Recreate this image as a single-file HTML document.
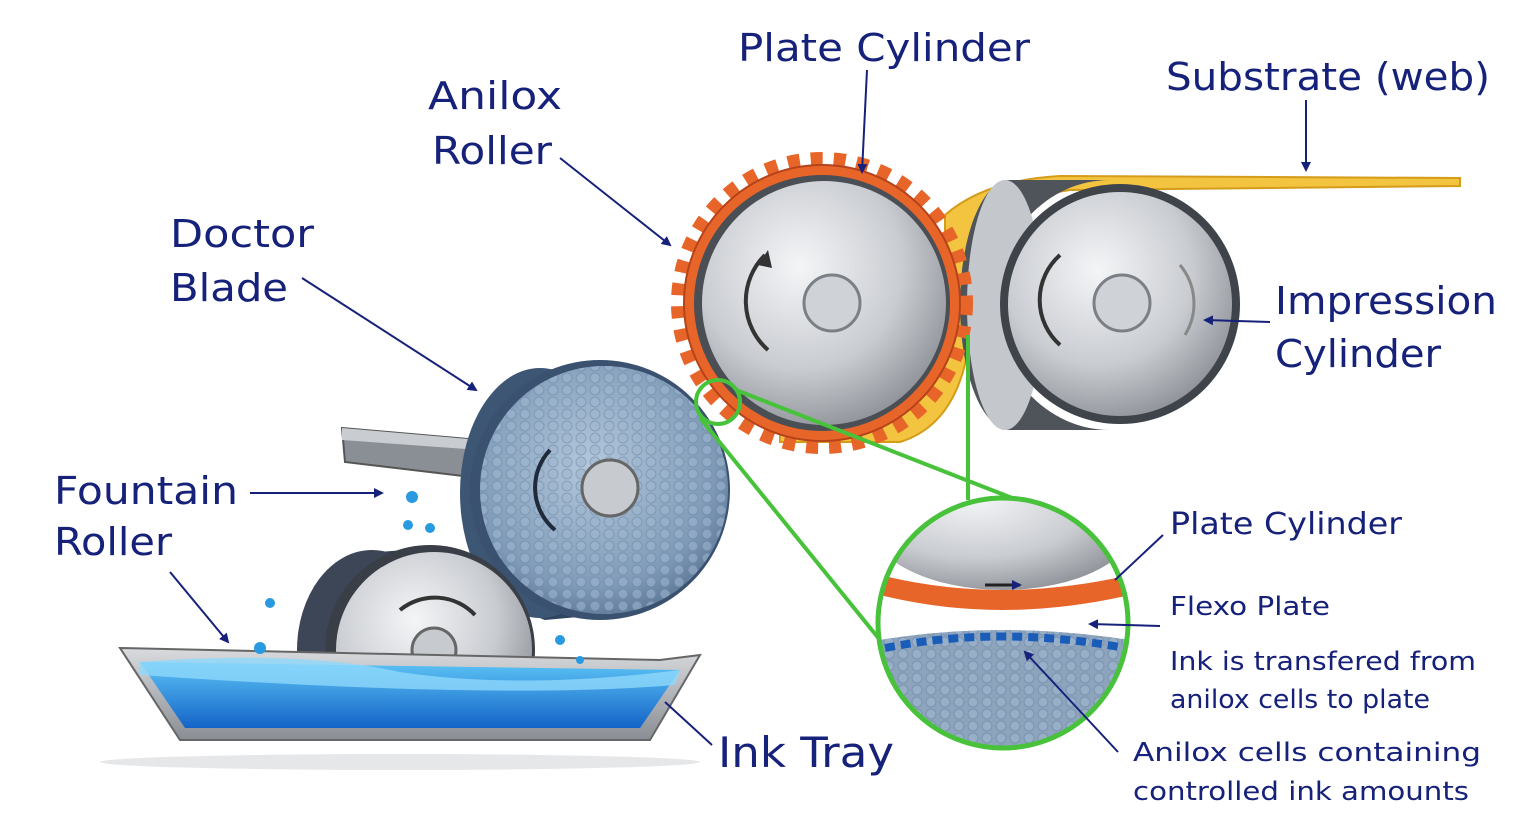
<!DOCTYPE html>
<html><head><meta charset="utf-8"><style>
html,body{margin:0;padding:0;background:#fff;}
svg{display:block}
text{font-family:"DejaVu Sans","Liberation Sans",sans-serif;fill:#16217a}
</style></head><body>
<svg width="1536" height="828" viewBox="0 0 1536 828" xmlns="http://www.w3.org/2000/svg">
<defs>
<radialGradient id="gray" cx="40%" cy="35%" r="70%">
<stop offset="0" stop-color="#f4f5f7"/><stop offset="0.6" stop-color="#c9ccd1"/><stop offset="1" stop-color="#8d9197"/></radialGradient>
<radialGradient id="blue" cx="45%" cy="40%" r="70%">
<stop offset="0" stop-color="#b4c8dc"/><stop offset="0.7" stop-color="#7f9bb8"/><stop offset="1" stop-color="#4d6787"/></radialGradient>
<linearGradient id="ink" x1="0" y1="0" x2="0" y2="1">
<stop offset="0" stop-color="#5cc3f5"/><stop offset="1" stop-color="#1464c8"/></linearGradient>
<linearGradient id="tray" x1="0" y1="0" x2="0" y2="1">
<stop offset="0" stop-color="#d9dbde"/><stop offset="1" stop-color="#8a8e94"/></linearGradient>
<pattern id="hex" width="14" height="12" patternUnits="userSpaceOnUse">
<circle cx="7" cy="6" r="5" fill="#9fb6cf" stroke="#6d87a5" stroke-width="1"/></pattern>
<marker id="ah" markerWidth="10" markerHeight="10" refX="8" refY="5" orient="auto" markerUnits="userSpaceOnUse">
<path d="M0,0 L10,5 L0,10 z" fill="#16217a"/></marker>
<clipPath id="zc"><circle cx="1003" cy="623" r="123"/></clipPath>
<clipPath id="fc"><rect x="0" y="0" width="1536" height="690"/></clipPath>
</defs>

<!-- substrate -->
<path d="M945,215 Q985,180 1060,176 L1460,178 L1460,186 L1070,190 Q1000,200 980,250 L968,350 Q955,425 900,442 L780,442 L780,425 Q900,420 935,360 L945,250 Z" fill="#f2c440" stroke="#d59c1a" stroke-width="2"/>

<!-- impression cylinder -->
<path d="M1110,180 A115,125 0 0 0 1110,430 L1010,430 A50,125 0 0 1 1010,180 Z" fill="#4f545b"/>
<ellipse cx="1005" cy="305" rx="38" ry="125" fill="#c4c7cc"/>
<circle cx="1120" cy="304" r="120" fill="#3f434a"/>
<circle cx="1120" cy="304" r="112" fill="url(#gray)"/>
<circle cx="1122" cy="303" r="28" fill="#cfd2d6" stroke="#7b8087" stroke-width="3"/>
<path d="M1060,345 A60,60 0 0 1 1060,255" fill="none" stroke="#333" stroke-width="4"/>
<path d="M1180,265 A60,60 0 0 1 1185,335" fill="none" stroke="#888" stroke-width="3"/>

<!-- plate cylinder -->
<circle cx="822" cy="303" r="144" fill="none" stroke="#e8652a" stroke-width="14" stroke-dasharray="12 11"/>
<circle cx="822" cy="303" r="138" fill="#e8652a" stroke="#b5431a" stroke-width="2"/>
<circle cx="822" cy="303" r="128" fill="#4a4e55"/>
<circle cx="824" cy="303" r="122" fill="url(#gray)"/>
<circle cx="832" cy="303" r="28" fill="#cfd2d6" stroke="#7b8087" stroke-width="3"/>
<path d="M768,350 A65,65 0 0 1 765,255" fill="none" stroke="#333" stroke-width="4"/>
<path d="M758,265 L768,250 L772,268 Z" fill="#333"/>

<!-- doctor blade -->
<path d="M342,428 L480,440 L480,478 L345,462 Z" fill="#8a8f96" stroke="#555" stroke-width="2"/>
<path d="M342,428 L480,440 L480,450 L342,440 Z" fill="#c9ccd0"/>

<!-- anilox roller -->
<path d="M600,365 L545,370 A80,128 0 0 0 545,620 L600,615 Z" fill="#2f4660"/>
<ellipse cx="540" cy="493" rx="80" ry="125" fill="#3d5674"/>
<circle cx="600" cy="490" r="130" fill="#3a5170"/>
<circle cx="604" cy="490" r="124" fill="url(#blue)"/>
<circle cx="604" cy="490" r="124" fill="url(#hex)" opacity="0.55"/>
<circle cx="610" cy="488" r="28" fill="#c7cbd0" stroke="#666" stroke-width="3"/>
<path d="M555,530 A55,55 0 0 1 550,450" fill="none" stroke="#1f2a3a" stroke-width="4"/>

<!-- fountain roller -->
<g clip-path="url(#fc)">
<path d="M430,548 L380,552 A70,100 0 0 0 380,740 L430,740 Z" fill="#2e3a48"/>
<ellipse cx="372" cy="650" rx="75" ry="100" fill="#3c4656"/>
<circle cx="430" cy="650" r="105" fill="#3a3f47"/>
<circle cx="434" cy="650" r="98" fill="url(#gray)"/>
<circle cx="434" cy="650" r="22" fill="#c7cbd0" stroke="#666" stroke-width="3"/>
<path d="M400,610 A55,55 0 0 1 475,615" fill="none" stroke="#333" stroke-width="4"/>
</g>

<!-- ink tray -->
<path d="M120,648 L660,660 L700,655 L650,740 L180,740 Z" fill="url(#tray)" stroke="#666" stroke-width="2"/>
<path d="M140,662 L680,670 L640,728 L185,728 Z" fill="url(#ink)"/>
<path d="M140,662 Q300,650 400,672 Q520,690 680,670 L675,685 Q500,700 140,675 Z" fill="#8fd8fb" opacity="0.8"/>
<ellipse cx="400" cy="762" rx="300" ry="8" fill="#e6e7e9"/>
<g fill="#2a9ae0"><circle cx="412" cy="497" r="6"/><circle cx="408" cy="525" r="5"/><circle cx="430" cy="528" r="5"/><circle cx="270" cy="603" r="5"/><circle cx="260" cy="648" r="6"/><circle cx="560" cy="640" r="5"/><circle cx="580" cy="660" r="4"/></g>

<!-- zoom inset -->
<circle cx="718" cy="402" r="22" fill="none" stroke="#47c23a" stroke-width="4"/>
<line x1="700" y1="418" x2="880" y2="640" stroke="#47c23a" stroke-width="4"/>
<line x1="736" y1="390" x2="1030" y2="505" stroke="#47c23a" stroke-width="4"/>
<line x1="968" y1="335" x2="968" y2="500" stroke="#47c23a" stroke-width="4"/>
<g clip-path="url(#zc)">
<rect x="870" y="490" width="270" height="270" fill="#fff"/>
<ellipse cx="1003" cy="520" rx="135" ry="70" fill="url(#gray)"/>
<path d="M880,575 Q1000,605 1130,575 L1130,595 Q1000,625 880,595 Z" fill="#e8652a"/>
<path d="M880,640 Q1000,620 1130,640 L1130,760 L880,760 Z" fill="#8ea4bd"/>
<path d="M880,640 Q1000,620 1130,640 L1130,760 L880,760 Z" fill="url(#hex)" opacity="0.6"/>
<path d="M885,648 Q1000,625 1125,648" fill="none" stroke="#1a5db8" stroke-width="8" stroke-dasharray="10 6"/>
<path d="M985,585 L1020,585" stroke="#222" stroke-width="3" marker-end="url(#ah)"/>
</g>
<circle cx="1003" cy="623" r="125" fill="none" stroke="#47c23a" stroke-width="5"/>

<!-- leader lines -->
<g stroke="#16217a" stroke-width="2" fill="none">
<line x1="867" y1="70" x2="862" y2="172" marker-end="url(#ah)"/>
<line x1="1306" y1="100" x2="1306" y2="170" marker-end="url(#ah)"/>
<line x1="560" y1="158" x2="670" y2="245" marker-end="url(#ah)"/>
<line x1="302" y1="278" x2="476" y2="390" marker-end="url(#ah)"/>
<line x1="250" y1="493" x2="382" y2="493" marker-end="url(#ah)"/>
<line x1="170" y1="572" x2="228" y2="642" marker-end="url(#ah)"/>
<line x1="1270" y1="322" x2="1205" y2="320" marker-end="url(#ah)"/>
<line x1="712" y1="745" x2="665" y2="702"/>
<line x1="1163" y1="535" x2="1115" y2="580"/>
<line x1="1160" y1="626" x2="1090" y2="624" marker-end="url(#ah)"/>
<line x1="1118" y1="752" x2="1025" y2="652" marker-end="url(#ah)"/>
</g>

<!-- labels -->
<g font-size="38">
<text x="738" y="61" textLength="292" lengthAdjust="spacingAndGlyphs">Plate Cylinder</text>
<text x="1166" y="90" textLength="324" lengthAdjust="spacingAndGlyphs">Substrate (web)</text>
<text x="428" y="109" textLength="134" lengthAdjust="spacingAndGlyphs">Anilox</text>
<text x="432" y="164" textLength="120" lengthAdjust="spacingAndGlyphs">Roller</text>
<text x="170" y="247" textLength="144" lengthAdjust="spacingAndGlyphs">Doctor</text>
<text x="170" y="301" textLength="118" lengthAdjust="spacingAndGlyphs">Blade</text>
<text x="54" y="504" textLength="184" lengthAdjust="spacingAndGlyphs">Fountain</text>
<text x="54" y="555" textLength="118" lengthAdjust="spacingAndGlyphs">Roller</text>
<text x="1275" y="314" textLength="222" lengthAdjust="spacingAndGlyphs">Impression</text>
<text x="1275" y="367" textLength="166" lengthAdjust="spacingAndGlyphs">Cylinder</text>
<text x="718" y="767" font-size="42" textLength="176" lengthAdjust="spacingAndGlyphs">Ink Tray</text>
</g>
<text x="1170" y="534" font-size="30" textLength="232" lengthAdjust="spacingAndGlyphs">Plate Cylinder</text>
<g font-size="26">
<text x="1170" y="615" textLength="160" lengthAdjust="spacingAndGlyphs">Flexo Plate</text>
<text x="1170" y="670" textLength="306" lengthAdjust="spacingAndGlyphs">Ink is transfered from</text>
<text x="1170" y="708" textLength="260" lengthAdjust="spacingAndGlyphs">anilox cells to plate</text>
<text x="1133" y="761" textLength="348" lengthAdjust="spacingAndGlyphs">Anilox cells containing</text>
<text x="1133" y="800" textLength="336" lengthAdjust="spacingAndGlyphs">controlled ink amounts</text>
</g>
</svg>
</body></html>
